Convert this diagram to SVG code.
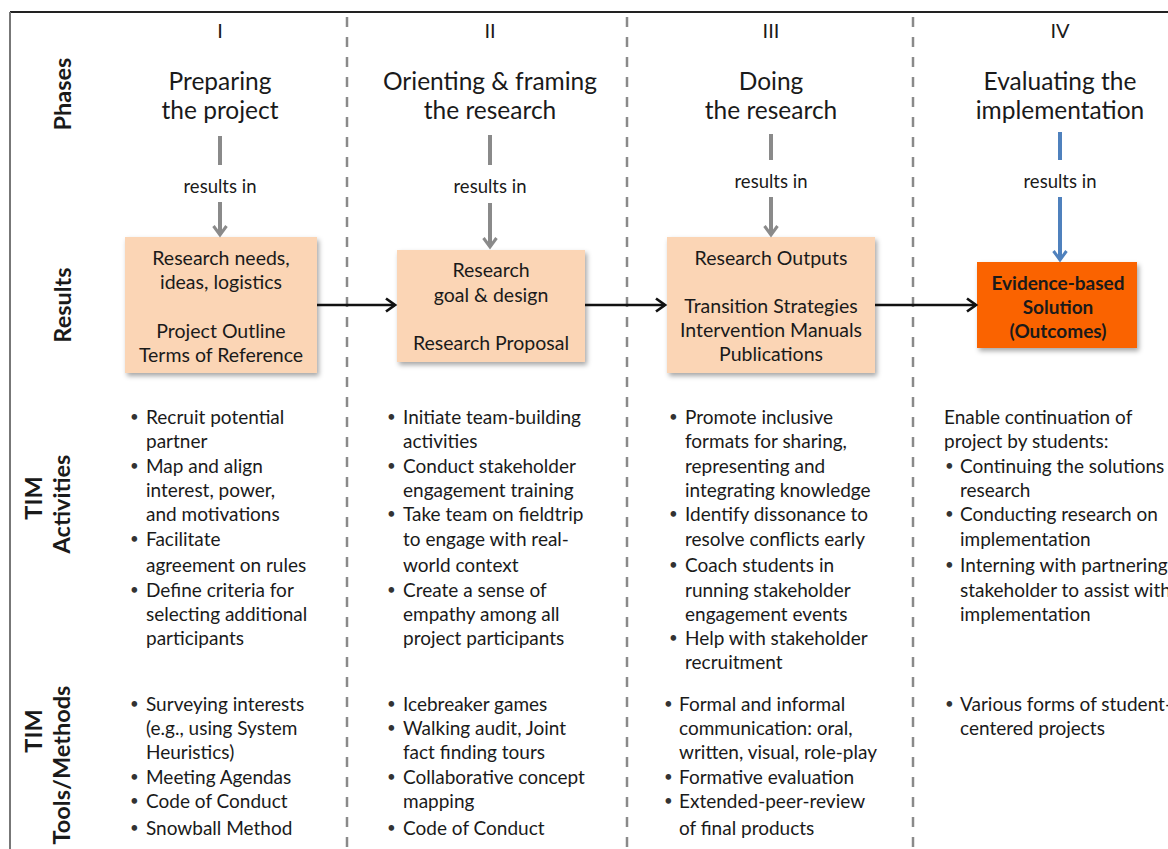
<svg xmlns="http://www.w3.org/2000/svg" width="1168" height="849" viewBox="0 0 1168 849">
<style>
text{font-family:Lato,"Open Sans","Liberation Sans",sans-serif;fill:#1a1a1a;dominant-baseline:central}
.num{font-size:20px;text-anchor:middle}
.ttl{font-size:24.5px;text-anchor:middle}
.ri{font-size:18.5px;text-anchor:middle}
.bx{font-size:19.5px;text-anchor:middle}
.bxb{font-size:19px;text-anchor:middle;font-weight:bold}
.b{font-size:19px}
.d{font-size:15px;fill:#333}
.lab{font-size:23.5px;font-weight:bold;text-anchor:middle}
.sep{stroke:#8a8a8a;stroke-width:2.5;stroke-dasharray:10 10}
.g{stroke:#8a8a8a;stroke-width:4;fill:none}
.bl{stroke:#4f81bd;stroke-width:4;fill:none}
.k{stroke:#111;stroke-width:2.5;fill:none}
.box{fill:#fbd5b5}
</style>
<defs>
<filter id="sh" x="-10%" y="-10%" width="130%" height="130%">
<feDropShadow dx="2" dy="3" stdDeviation="2.5" flood-color="#000" flood-opacity="0.35"/>
</filter>
<marker id="ak" markerWidth="16" markerHeight="16" refX="12" refY="8" orient="auto" markerUnits="userSpaceOnUse">
<path d="M3,1.5 L12,8 L3,14.5" fill="none" stroke="#111" stroke-width="2.7"/>
</marker>
<marker id="ag" markerWidth="16" markerHeight="16" refX="12" refY="8" orient="auto" markerUnits="userSpaceOnUse">
<path d="M3,1.5 L12,8 L3,14.5" fill="none" stroke="#8a8a8a" stroke-width="3"/>
</marker>
<marker id="ab" markerWidth="16" markerHeight="16" refX="12" refY="8" orient="auto" markerUnits="userSpaceOnUse">
<path d="M3,1.5 L12,8 L3,14.5" fill="none" stroke="#4f81bd" stroke-width="3"/>
</marker>
</defs>
<rect width="1168" height="849" fill="#fff"/>
<g id="frame">
<line x1="10" y1="12" x2="1168" y2="12" stroke="#222" stroke-width="2"/>
<line x1="10" y1="12" x2="10" y2="849" stroke="#777" stroke-width="2"/>
<line class="sep" x1="347" y1="17" x2="347" y2="849"/>
<line class="sep" x1="627" y1="17" x2="627" y2="849"/>
<line class="sep" x1="913" y1="17" x2="913" y2="849"/>
</g>
<g id="row-labels">
<text class="lab" transform="translate(62,94) rotate(-90)">Phases</text>
<text class="lab" transform="translate(62,305) rotate(-90)">Results</text>
<text class="lab" transform="translate(33,498) rotate(-90)">TIM</text>
<text class="lab" transform="translate(61,504) rotate(-90)">Activities</text>
<text class="lab" transform="translate(33,731) rotate(-90)">TIM</text>
<text class="lab" transform="translate(61,765) rotate(-90)">Tools/Methods</text>
</g>
<g id="phase1">
<text class="num" x="220" y="30">I</text>
<text class="ttl" x="220" y="80">Preparing</text>
<text class="ttl" x="220" y="109">the project</text>
<text class="ri" x="220" y="186">results in</text>
</g>
<g id="phase2">
<text class="num" x="490" y="30">II</text>
<text class="ttl" x="490" y="80">Orienting &amp; framing</text>
<text class="ttl" x="490" y="109">the research</text>
<text class="ri" x="490" y="186">results in</text>
</g>
<g id="phase3">
<text class="num" x="771" y="30">III</text>
<text class="ttl" x="771" y="80">Doing</text>
<text class="ttl" x="771" y="109">the research</text>
<text class="ri" x="771" y="181">results in</text>
</g>
<g id="phase4">
<text class="num" x="1060" y="30">IV</text>
<text class="ttl" x="1060" y="80">Evaluating the</text>
<text class="ttl" x="1060" y="109">implementation</text>
<text class="ri" x="1060" y="181">results in</text>
</g>
<g id="result1">
<rect class="box" x="125" y="237" width="192" height="136" filter="url(#sh)"/>
<text class="bx" x="221" y="257">Research needs,</text>
<text class="bx" x="221" y="281">ideas, logistics</text>
<text class="bx" x="221" y="330">Project Outline</text>
<text class="bx" x="221" y="354">Terms of Reference</text>
</g>
<g id="result2">
<rect class="box" x="397" y="250" width="188" height="112" filter="url(#sh)"/>
<text class="bx" x="491" y="269">Research</text>
<text class="bx" x="491" y="294">goal &amp; design</text>
<text class="bx" x="491" y="342">Research Proposal</text>
</g>
<g id="result3">
<rect class="box" x="667" y="237" width="208" height="136" filter="url(#sh)"/>
<text class="bx" x="771" y="257">Research Outputs</text>
<text class="bx" x="771" y="305">Transition Strategies</text>
<text class="bx" x="771" y="329">Intervention Manuals</text>
<text class="bx" x="771" y="353">Publications</text>
</g>
<g id="result4">
<rect x="977" y="262" width="160" height="86" fill="#fa6400" filter="url(#sh)"/>
<text class="bxb" x="1058" y="282">Evidence-based</text>
<text class="bxb" x="1058" y="306">Solution</text>
<text class="bxb" x="1058" y="330">(Outcomes)</text>
</g>
<g id="connectors">
<line class="g" x1="220" y1="136" x2="220" y2="165"/>
<line class="g" x1="220" y1="202" x2="220" y2="235" marker-end="url(#ag)"/>
<line class="g" x1="490" y1="135" x2="490" y2="165"/>
<line class="g" x1="490" y1="203" x2="490" y2="247" marker-end="url(#ag)"/>
<line class="g" x1="771" y1="134" x2="771" y2="160"/>
<line class="g" x1="771" y1="197" x2="771" y2="235" marker-end="url(#ag)"/>
<line class="bl" x1="1060" y1="132" x2="1060" y2="160"/>
<line class="bl" x1="1060" y1="197" x2="1060" y2="260" marker-end="url(#ab)"/>
<line class="k" x1="317" y1="305" x2="395" y2="305" marker-end="url(#ak)"/>
<line class="k" x1="585" y1="305" x2="665" y2="305" marker-end="url(#ak)"/>
<line class="k" x1="875" y1="305" x2="976" y2="305" marker-end="url(#ak)"/>
</g>
<g id="activities1">
<text class="d" x="130" y="416">•</text><text class="b" x="146" y="416">Recruit potential</text>
<text class="b" x="146" y="440">partner</text>
<text class="d" x="130" y="465">•</text><text class="b" x="146" y="465">Map and align</text>
<text class="b" x="146" y="489">interest, power,</text>
<text class="b" x="146" y="513">and motivations</text>
<text class="d" x="130" y="538">•</text><text class="b" x="146" y="538">Facilitate</text>
<text class="b" x="146" y="564">agreement on rules</text>
<text class="d" x="130" y="589">•</text><text class="b" x="146" y="589">Define criteria for</text>
<text class="b" x="146" y="613">selecting additional</text>
<text class="b" x="146" y="637">participants</text>
</g>
<g id="activities2">
<text class="d" x="387" y="416">•</text><text class="b" x="403" y="416">Initiate team-building</text>
<text class="b" x="403" y="440">activities</text>
<text class="d" x="387" y="465">•</text><text class="b" x="403" y="465">Conduct stakeholder</text>
<text class="b" x="403" y="489">engagement training</text>
<text class="d" x="387" y="513">•</text><text class="b" x="403" y="513">Take team on fieldtrip</text>
<text class="b" x="403" y="538">to engage with real-</text>
<text class="b" x="403" y="564">world context</text>
<text class="d" x="387" y="589">•</text><text class="b" x="403" y="589">Create a sense of</text>
<text class="b" x="403" y="613">empathy among all</text>
<text class="b" x="403" y="637">project participants</text>
</g>
<g id="activities3">
<text class="d" x="669" y="416">•</text><text class="b" x="685" y="416">Promote inclusive</text>
<text class="b" x="685" y="440">formats for sharing,</text>
<text class="b" x="685" y="465">representing and</text>
<text class="b" x="685" y="489">integrating knowledge</text>
<text class="d" x="669" y="513">•</text><text class="b" x="685" y="513">Identify dissonance to</text>
<text class="b" x="685" y="538">resolve conflicts early</text>
<text class="d" x="669" y="564">•</text><text class="b" x="685" y="564">Coach students in</text>
<text class="b" x="685" y="589">running stakeholder</text>
<text class="b" x="685" y="613">engagement events</text>
<text class="d" x="669" y="637">•</text><text class="b" x="685" y="637">Help with stakeholder</text>
<text class="b" x="685" y="661">recruitment</text>
</g>
<g id="activities4">
<text class="b" x="944" y="416">Enable continuation of</text>
<text class="b" x="944" y="440">project by students:</text>
<text class="d" x="945" y="465">•</text><text class="b" x="960" y="465">Continuing the solutions</text>
<text class="b" x="960" y="489">research</text>
<text class="d" x="945" y="513">•</text><text class="b" x="960" y="513">Conducting research on</text>
<text class="b" x="960" y="538">implementation</text>
<text class="d" x="945" y="564">•</text><text class="b" x="960" y="564">Interning with partnering</text>
<text class="b" x="960" y="589">stakeholder to assist with</text>
<text class="b" x="960" y="613">implementation</text>
</g>
<g id="tools1">
<text class="d" x="130" y="703">•</text><text class="b" x="146" y="703">Surveying interests</text>
<text class="b" x="146" y="727">(e.g., using System</text>
<text class="b" x="146" y="751">Heuristics)</text>
<text class="d" x="130" y="776">•</text><text class="b" x="146" y="776">Meeting Agendas</text>
<text class="d" x="130" y="800">•</text><text class="b" x="146" y="800">Code of Conduct</text>
<text class="d" x="130" y="827">•</text><text class="b" x="146" y="827">Snowball Method</text>
</g>
<g id="tools2">
<text class="d" x="387" y="703">•</text><text class="b" x="403" y="703">Icebreaker games</text>
<text class="d" x="387" y="727">•</text><text class="b" x="403" y="727">Walking audit, Joint</text>
<text class="b" x="403" y="751">fact finding tours</text>
<text class="d" x="387" y="776">•</text><text class="b" x="403" y="776">Collaborative concept</text>
<text class="b" x="403" y="800">mapping</text>
<text class="d" x="387" y="827">•</text><text class="b" x="403" y="827">Code of Conduct</text>
</g>
<g id="tools3">
<text class="d" x="664" y="703">•</text><text class="b" x="679" y="703">Formal and informal</text>
<text class="b" x="679" y="727">communication: oral,</text>
<text class="b" x="679" y="751">written, visual, role-play</text>
<text class="d" x="664" y="776">•</text><text class="b" x="679" y="776">Formative evaluation</text>
<text class="d" x="664" y="800">•</text><text class="b" x="679" y="800">Extended-peer-review</text>
<text class="b" x="679" y="827">of final products</text>
</g>
<g id="tools4">
<text class="d" x="945" y="703">•</text><text class="b" x="960" y="703">Various forms of student-</text>
<text class="b" x="960" y="727">centered projects</text>
</g>
</svg>
